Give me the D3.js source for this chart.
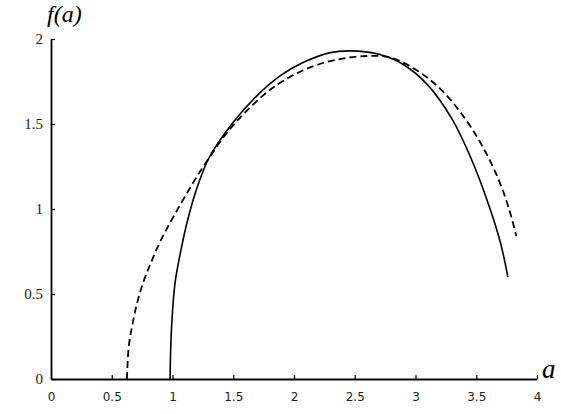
<!DOCTYPE html>
<html>
<head>
<meta charset="utf-8">
<script src="https://cdn.jsdelivr.net/npm/d3@7"></script>
<style>
  body { margin: 0; background: #fff; }
  .x-axis text { font-family: "DejaVu Sans", sans-serif; font-size: 12px; }
  .y-axis text { font-family: "Liberation Serif", serif; font-size: 15px; }
</style>
</head>
<body>
<div class="chart"></div>
<script>
// values
var xTicks = [0, 0.5, 1, 1.5, 2, 2.5, 3, 3.5, 4];
var yTicks = [0, 0.5, 1, 1.5, 2];

// solid curve
var solidA = [0.98, 0.99, 1.02, 1.07, 1.13, 1.2, 1.3, 1.5, 1.7, 1.9, 2.1, 2.3, 2.46, 2.7, 2.9, 3.1, 3.3, 3.45, 3.6, 3.7, 3.76];
var solidF = [0, 0.27, 0.56, 0.76, 0.95, 1.12, 1.30, 1.51, 1.67, 1.79, 1.87, 1.92, 1.93, 1.91, 1.85, 1.73, 1.53, 1.31, 1.03, 0.80, 0.60];

// dashed curve
var dashedA = [0.625, 0.64, 0.67, 0.71, 0.76, 0.82, 0.88, 0.95, 1.02, 1.1, 1.2, 1.32, 1.45, 1.6, 1.8, 2.0, 2.2, 2.4, 2.6, 2.8, 3.0, 3.2, 3.4, 3.55, 3.68, 3.77, 3.83];
var dashedF = [0, 0.19, 0.32, 0.45, 0.57, 0.68, 0.78, 0.88, 0.97, 1.07, 1.19, 1.32, 1.45, 1.57, 1.70, 1.79, 1.85, 1.885, 1.90, 1.89, 1.82, 1.71, 1.54, 1.37, 1.18, 1.00, 0.84];

var svgWidth = 561;
var svgHeight = 414;

var margin = { top: 39, right: 24, bottom: 35, left: 51 };
var width = svgWidth - margin.left - margin.right;
var height = svgHeight - margin.top - margin.bottom;

var svg = d3.select(".chart")
  .append("svg")
  .attr("width", svgWidth)
  .attr("height", svgHeight)
  .style("background", "#fff");

var chart = svg.append("g")
  .attr("transform", "translate(" + margin.left + "," + margin.top + ")");

var x = d3.scaleLinear().domain([0, 4]).range([0, 486]);
var y = d3.scaleLinear().domain([0, 2]).range([height, 0]);

//Axes with ticks pointing inward.
var xAxis = chart.append("g")
  .attr("class", "x-axis")
  .attr("transform", "translate(0," + height + ")")
  .call(d3.axisBottom(x).tickValues(xTicks).tickSizeInner(-4).tickSizeOuter(0).tickPadding(13)
    .tickFormat(function(d) { return String(d); }));

var yAxis = chart.append("g")
  .attr("class", "y-axis")
  .call(d3.axisLeft(y).tickValues(yTicks).tickSizeInner(-4).tickSizeOuter(0).tickPadding(8)
    .tickFormat(function(d) { return String(d); }));

xAxis.select(".domain").attr("stroke", "#000").attr("stroke-width", 1.8);
yAxis.select(".domain").attr("stroke", "#000").attr("stroke-width", 1.8);
chart.selectAll(".tick line").attr("stroke", "#000").attr("stroke-width", 1.2);
xAxis.selectAll("text").attr("fill", "#222");
yAxis.selectAll("text").attr("fill", "#222");

var line = d3.line()
  .x(function(d) { return x(d[0]); })
  .y(function(d) { return y(d[1]); })
  .curve(d3.curveCatmullRom.alpha(0.5));

var solidData = d3.zip(solidA, solidF);
var dashedData = d3.zip(dashedA, dashedF);

chart.append("path")
  .datum(dashedData)
  .attr("d", line)
  .attr("fill", "none")
  .attr("stroke", "#000")
  .attr("stroke-width", 1.8)
  .attr("stroke-dasharray", "7,4");

chart.append("path")
  .datum(solidData)
  .attr("d", line)
  .attr("fill", "none")
  .attr("stroke", "#000")
  .attr("stroke-width", 1.6);

// axis titles
svg.append("text")
  .attr("x", 47)
  .attr("y", 22)
  .style("font-family", "Liberation Serif, serif")
  .style("font-style", "italic")
  .style("font-size", "24px")
  .text("f(a)");

svg.append("text")
  .attr("x", 542)
  .attr("y", 378)
  .style("font-family", "Liberation Serif, serif")
  .style("font-style", "italic")
  .style("font-size", "27px")
  .text("a");
</script>
</body>
</html>
